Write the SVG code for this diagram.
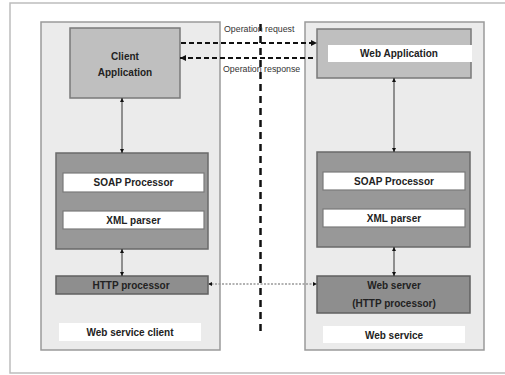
<svg xmlns="http://www.w3.org/2000/svg" width="505" height="375" viewBox="0 0 505 375">
<style>
.t{font-family:"Liberation Sans",Arial,sans-serif;font-weight:bold;font-size:10px;fill:#222;text-anchor:middle}
.s{font-family:"Liberation Sans",Arial,sans-serif;font-size:8.8px;fill:#333}
.panel{fill:#ebebeb;stroke:#9a9a9a;stroke-width:1.5}
.light{fill:#bfbfbf;stroke:#7a7a7a;stroke-width:1.5}
.dark{fill:#989898;stroke:#6a6a6a;stroke-width:1.5}
.darker{fill:#8e8e8e;stroke:#606060;stroke-width:1.5}
.white{fill:#fff;stroke:#7a7a7a;stroke-width:1.2}
.lbl{fill:#fff}
.sol{stroke:#333;stroke-width:1;fill:none;marker-start:url(#ah);marker-end:url(#ah)}
</style>
<defs>
<marker id="ah" viewBox="0 0 10 10" refX="10" refY="5" markerWidth="4" markerHeight="4" orient="auto-start-reverse" markerUnits="userSpaceOnUse"><path d="M0,0L10,5L0,10z" fill="#111"/></marker>
<marker id="ah2" viewBox="0 0 10 10" refX="10" refY="5" markerWidth="6" markerHeight="6" orient="auto-start-reverse" markerUnits="userSpaceOnUse"><path d="M0,0L10,5L0,10z" fill="#111"/></marker>
</defs>
<rect width="505" height="375" fill="#fff"/>
<path d="M510,3H10V373H510" fill="none" stroke="#bdbdbd" stroke-width="1.5"/>

<g id="client-panel">
<rect class="panel" x="41" y="22" width="179" height="328"/>
</g>
<g id="service-panel">
<rect class="panel" x="305" y="22" width="179" height="328"/>
</g>

<g id="client-application">
<rect class="light" x="70" y="28" width="110" height="70"/>
<text class="t" x="125" y="60">Client</text>
<text class="t" x="125" y="76">Application</text>
</g>
<g id="client-soap">
<rect class="dark" x="56" y="153" width="152" height="96"/>
<rect class="white" x="63" y="173" width="141" height="19"/>
<text class="t" x="133.5" y="186">SOAP Processor</text>
<rect class="white" x="63" y="211" width="141" height="18"/>
<text class="t" x="133.5" y="224">XML parser</text>
</g>
<g id="client-http">
<rect class="darker" x="56" y="276" width="152" height="18"/>
<text class="t" x="131" y="289">HTTP processor</text>
</g>
<g id="client-label">
<rect class="lbl" x="59" y="323" width="142" height="18"/>
<text class="t" x="130" y="336">Web service client</text>
</g>

<g id="web-application">
<rect class="light" x="317" y="29" width="154" height="49"/>
<rect class="lbl" x="328" y="45" width="144" height="17"/>
<text class="t" x="399" y="57">Web Application</text>
</g>
<g id="service-soap">
<rect class="dark" x="317" y="152" width="153" height="95"/>
<rect class="white" x="323" y="172" width="142" height="18"/>
<text class="t" x="394" y="185">SOAP Processor</text>
<rect class="white" x="323" y="209" width="142" height="18"/>
<text class="t" x="394" y="222">XML parser</text>
</g>
<g id="web-server">
<rect class="darker" x="317" y="276" width="153" height="37"/>
<text class="t" x="394" y="289">Web server</text>
<text class="t" x="394" y="307">(HTTP processor)</text>
</g>
<g id="service-label">
<rect class="lbl" x="323" y="326" width="142" height="17"/>
<text class="t" x="394" y="339">Web service</text>
</g>

<g id="connectors">
<line x1="260.5" y1="24" x2="260.5" y2="332" stroke="#111" stroke-width="2.5" stroke-dasharray="7,5"/>
<line x1="181" y1="43" x2="317" y2="43" stroke="#111" stroke-width="2" stroke-dasharray="5,3" marker-end="url(#ah2)"/>
<line x1="313" y1="58" x2="180" y2="58" stroke="#111" stroke-width="2" stroke-dasharray="5,3" marker-end="url(#ah2)"/>
<text class="s" x="224" y="32">Operation request</text>
<text class="s" x="223" y="72">Operation response</text>
<line class="sol" x1="122" y1="98" x2="122" y2="153"/>
<line class="sol" x1="122" y1="249" x2="122" y2="276"/>
<line class="sol" x1="394" y1="78" x2="394" y2="152"/>
<line class="sol" x1="394" y1="247" x2="394" y2="276"/>
<line x1="208" y1="284" x2="317" y2="284" stroke="#999" stroke-width="1.5" stroke-dasharray="2,1.5" marker-start="url(#ah)" marker-end="url(#ah)"/>
</g>
</svg>
